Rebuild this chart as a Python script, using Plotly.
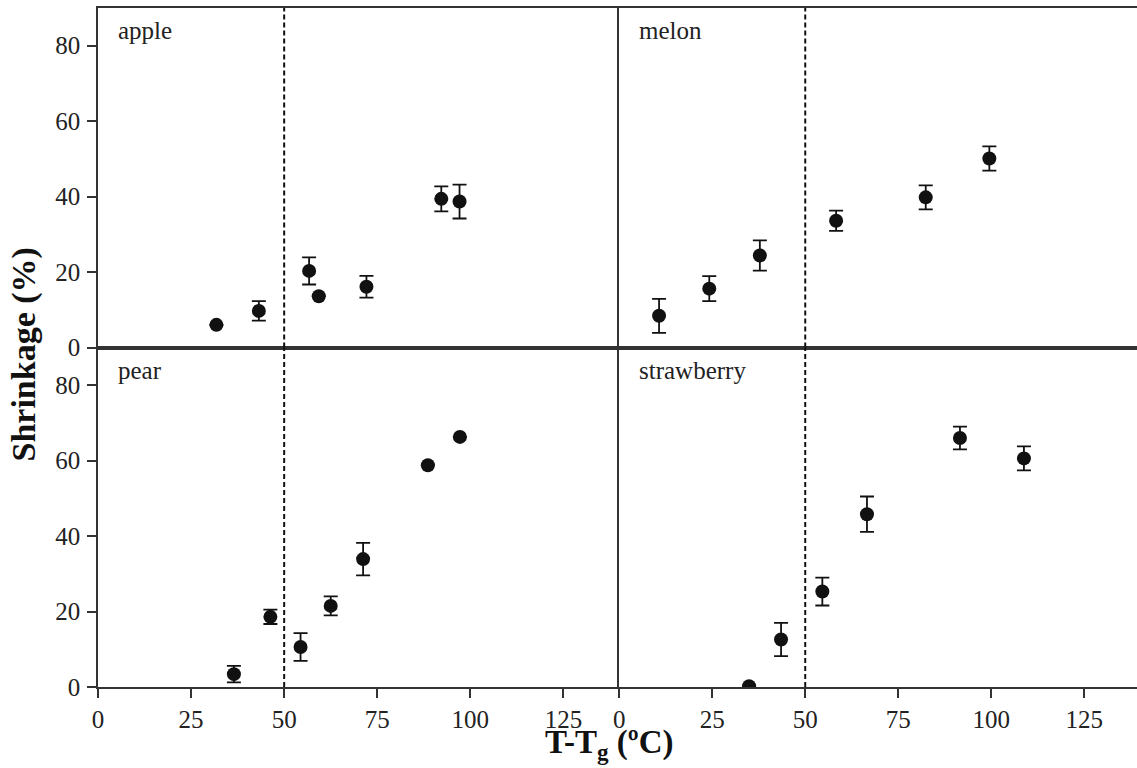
import plotly.graph_objects as go
from plotly.subplots import make_subplots

# ---- data ----
apple_x = [31.8, 43.2, 56.7, 59.3, 72.1, 92.2, 97.1]
apple_y = [6.0, 9.7, 20.3, 13.6, 16.1, 39.4, 38.7]
apple_err = [0, 2.6, 3.6, 0, 2.9, 3.3, 4.5]

melon_x = [10.7, 24.2, 37.8, 58.3, 82.4, 99.5]
melon_y = [8.4, 15.6, 24.4, 33.6, 39.8, 50.1]
melon_err = [4.5, 3.3, 4.0, 2.7, 3.2, 3.2]

pear_x = [36.5, 46.3, 54.4, 62.5, 71.2, 88.6, 97.2]
pear_y = [3.4, 18.6, 10.6, 21.5, 33.9, 58.8, 66.3]
pear_err = [2.2, 1.9, 3.7, 2.5, 4.3, 0, 0]

straw_x = [34.9, 43.5, 54.6, 66.6, 91.6, 108.8]
straw_y = [0.2, 12.6, 25.3, 45.8, 66.0, 60.6]
straw_err = [0, 4.4, 3.7, 4.7, 3.0, 3.2]

panel_names = ["apple", "melon", "pear", "strawberry"]
threshold = 50
x_ticks = [0, 25, 50, 75, 100, 125]
y_ticks = [0, 20, 40, 60, 80]

series = [
    (apple_x, apple_y, apple_err, 1, 1),
    (melon_x, melon_y, melon_err, 1, 2),
    (pear_x, pear_y, pear_err, 2, 1),
    (straw_x, straw_y, straw_err, 2, 2),
]

FONT = "Liberation Serif"
INK = "#111111"
LINE = "#333333"

fig = make_subplots(rows=2, cols=2, horizontal_spacing=0, vertical_spacing=0)

for xs, ys, es, r, c in series:
    fig.add_trace(go.Scatter(
        x=xs, y=ys, mode="markers",
        marker=dict(size=14, color=INK),
        error_y=dict(type="data", array=es, visible=True, color=INK,
                     thickness=1.8, width=7),
        showlegend=False), row=r, col=c)
    fig.add_vline(x=threshold, line=dict(color=INK, width=2, dash="5px,3px"),
                  row=r, col=c)

# panel labels
for name, (_, _, _, r, c) in zip(panel_names, series):
    fig.add_annotation(text=name, x=4.9, y=84, xanchor="left", yanchor="middle",
                       showarrow=False, font=dict(family=FONT, size=25, color="#222"),
                       row=r, col=c)

split_x = 0.5017
split_y = 0.5
fig.update_layout(
    width=1137, height=768,
    margin=dict(l=98, r=0, t=8, b=81),
    paper_bgcolor="white", plot_bgcolor="white",
    font=dict(family=FONT, size=25, color="#222"),
    xaxis=dict(domain=[0, split_x]),
    xaxis2=dict(domain=[split_x, 1]),
    xaxis3=dict(domain=[0, split_x]),
    xaxis4=dict(domain=[split_x, 1]),
    yaxis=dict(domain=[split_y, 1]),
    yaxis2=dict(domain=[split_y, 1]),
    yaxis3=dict(domain=[0, split_y]),
    yaxis4=dict(domain=[0, split_y]),
)

for i in range(1, 5):
    r = 1 if i <= 2 else 2
    c = 1 if i in (1, 3) else 2
    xr = [0, 140] if c == 1 else [0, 139.2]
    fig.update_xaxes(
        range=xr, showgrid=False, zeroline=False,
        showline=True, linecolor=LINE, linewidth=2, mirror=True,
        tickvals=x_ticks if r == 2 else [],
        ticks="outside" if r == 2 else "", ticklen=9, tickwidth=1.5, tickcolor=LINE,
        showticklabels=(r == 2),
        tickfont=dict(family=FONT, size=25, color="#222"),
        row=r, col=c)
    fig.update_yaxes(
        range=[0, 90], showgrid=False, zeroline=False,
        showline=True, linecolor=LINE, linewidth=1.6, mirror=False,
        tickvals=y_ticks if c == 1 else [],
        ticks="outside" if c == 1 else "", ticklen=9, tickwidth=1.5, tickcolor=LINE,
        showticklabels=(c == 1), ticklabelstandoff=2,
        tickfont=dict(family=FONT, size=25, color="#222"),
        row=r, col=c)

# axis titles
fig.add_annotation(text="<b>Shrinkage (%)</b>", xref="paper", yref="paper",
                   x=-0.071, y=0.49, xanchor="center", yanchor="middle",
                   textangle=-90, showarrow=False,
                   font=dict(family=FONT, size=34, color="#111"))
fig.add_annotation(text="<b>T-T<sub>g</sub> (ºC)</b>", xref="paper", yref="paper",
                   x=0.492, y=-0.085, xanchor="center", yanchor="middle",
                   showarrow=False,
                   font=dict(family=FONT, size=33, color="#111"))

fig.write_html(
    "out.html",
    config={"displayModeBar": False},
    post_script="document.body.style.margin='0';document.body.style.padding='0';"
                "document.body.style.overflow='hidden';",
)
